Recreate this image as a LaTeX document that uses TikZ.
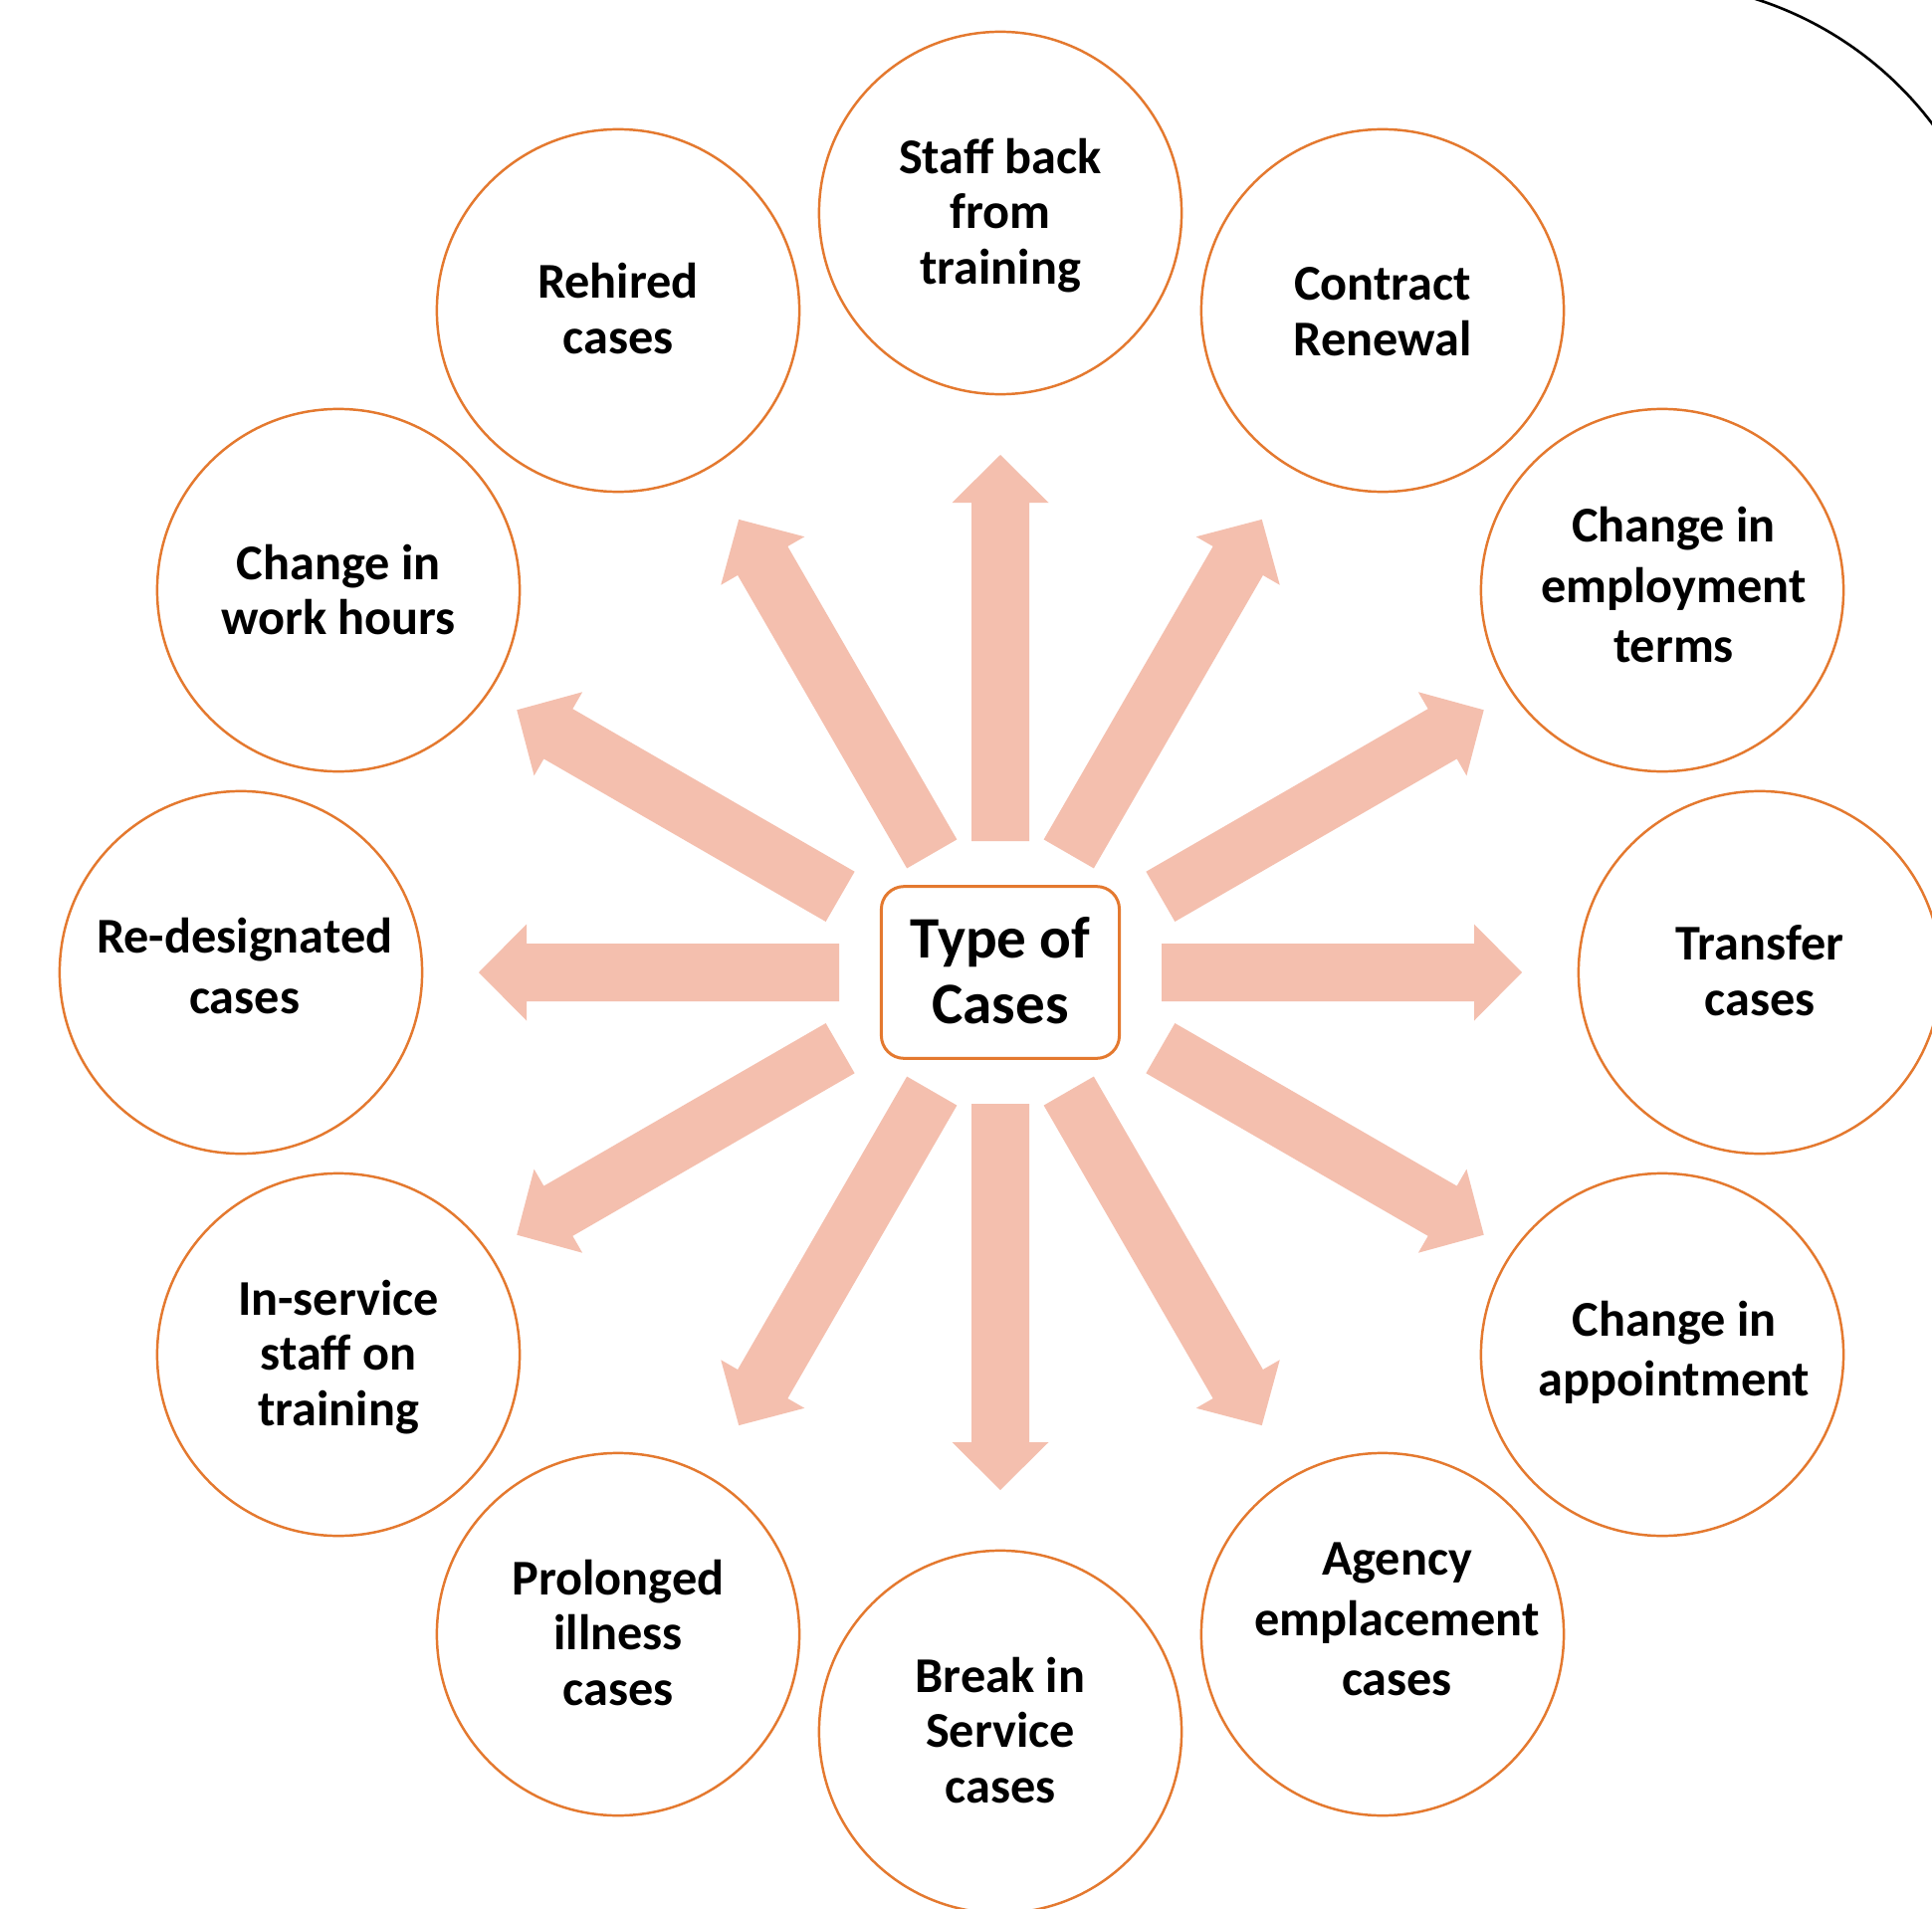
\documentclass[tikz,border=0pt]{standalone}
\usepackage{fontspec}
\setmainfont{Carlito}
\definecolor{ringorange}{HTML}{E4792F}
\definecolor{arrowpink}{HTML}{F4BFAE}
\begin{document}
\begin{tikzpicture}[x=0.01cm, y=-0.01cm,
  ring/.style={circle, draw=ringorange, line width=0.7pt, minimum size=3.64cm, inner sep=0pt, fill=white},
  cirtext/.style={align=center, inner sep=0pt, yshift=-0.045cm, font=\fontsize{14.3}{15.8}\selectfont\bfseries},
  cirtextwide/.style={align=center, inner sep=0pt, font=\fontsize{14.3}{17.07}\selectfont\bfseries},
  hub/.style={rectangle, rounded corners=6.5pt, draw=ringorange, line width=0.85pt, minimum width=2.39cm, minimum height=1.726cm, inner sep=0pt, fill=white},
  hubtext/.style={align=center, inner sep=0pt, font=\fontsize{16.8}{18.5}\selectfont\bfseries},
  arrowshape/.style={fill=arrowpink},
  arcline/.style={draw=black, line width=0.75pt}]
\useasboundingbox (0,0) rectangle (1941,1918);
\fill[white] (0,0) rectangle (1941,1918);
\clip (0,0) rectangle (1941,1918);

% centre
\node[hub] (ctr) at (1005,977) {};
\node[hubtext] (ctrtext) at ([shift={(0,5.5)}]ctr.center) {\strut Type of\\Cases\strut};

% block arrows: angle / start / tip / offset
\foreach \a/\s/\t/\p in {90/132/520/0, 60/137.5/525.5/0, 30/177.4/552.5/14.5, 0/162/524/0,
  -30/177.4/552.5/-14.5, -60/137.5/525.5/0, -90/132/520/0, -120/137.5/525.5/0,
  -150/177.4/552.5/14.5, 180/162/524/0, 150/177.4/552.5/-14.5, 120/137.5/525.5/0}
  \fill[arrowshape, shift={(ctr.center)}, rotate=\a]
    (\s,{\p-29}) -- ({\t-48},{\p-29}) -- ({\t-48},{\p-48.5}) -- (\t,\p)
    -- ({\t-48},{\p+48.5}) -- ({\t-48},{\p+29}) -- (\s,{\p+29}) -- cycle;

% circles
\node[ring] (c1) at (1005,214) {};
\node[ring] (c2) at (1389,312) {};
\node[ring] (c3) at (1670,593) {};
\node[ring] (c4) at (1768,977) {};
\node[ring] (c5) at (1670,1361) {};
\node[ring] (c6) at (1389,1642) {};
\node[ring] (c7) at (1005,1740) {};
\node[ring] (c8) at (621,1642) {};
\node[ring] (c9) at (340,1361) {};
\node[ring] (c10) at (242,977) {};
\node[ring] (c11) at (340,593) {};
\node[ring] (c12) at (621,312) {};

% circle texts
\node[cirtext] (t1) at (c1.center) {\strut Staff back\\from\\training\strut};
\node[cirtext] (t2) at ([shift={(0,2)}]c2.center) {\strut Contract\\Renewal\strut};
\node[cirtextwide] (t3) at ([shift={(11.5,0)}]c3.center) {\strut Change in\\employment\\terms\strut};
\node[cirtext] (t4) at (c4.center) {\strut Transfer\\cases\strut};
\node[cirtextwide] (t5) at ([shift={(12,-1)}]c5.center) {\strut Change in\\appointment\strut};
\node[cirtextwide] (t6) at ([shift={(14.5,-11)}]c6.center) {\strut Agency\\emplacement\\cases\strut};
\node[cirtext] (t7) at (c7.center) {\strut Break in\\Service\\cases\strut};
\node[cirtext] (t8) at (c8.center) {\strut Prolonged\\illness\\cases\strut};
\node[cirtext] (t9) at (c9.center) {\strut In-service\\staff on\\training\strut};
\node[cirtextwide] (t10) at ([shift={(3.7,-1)}]c10.center) {\strut Re-designated\\cases\strut};
\node[cirtext] (t11) at ([shift={(0,1.5)}]c11.center) {\strut Change in\\work hours\strut};
\node[cirtext] (t12) at (c12.center) {\strut Rehired\\cases\strut};

% partial black arc at the top right corner
\draw[arcline] (1654.5,342) ++(-77:360) arc[start angle=-77, end angle=-28, radius=360];
\end{tikzpicture}
\end{document}
